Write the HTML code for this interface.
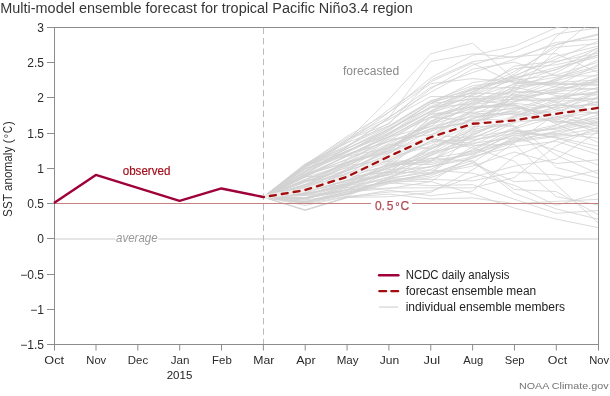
<!DOCTYPE html><html><head><meta charset="utf-8"><style>html,body{margin:0;padding:0;background:#fff;}svg{display:block;will-change:transform;}text{font-family:"Liberation Sans",sans-serif;}</style></head><body>
<svg width="610" height="396" viewBox="0 0 610 396">
<rect width="610" height="396" fill="#fff"/>
<defs><clipPath id="pc"><rect x="54" y="27" width="545" height="318"/></clipPath></defs>
<text x="0.3" y="12.6" font-size="14" fill="#363636" textLength="412.5" lengthAdjust="spacingAndGlyphs">Multi-model ensemble forecast for tropical Pacific Niño3.4 region</text>
<g stroke="#8c8c8c" stroke-width="1" fill="none">
<rect x="54.5" y="27.5" width="544" height="317"/>
<line x1="47" y1="27.5" x2="54" y2="27.5"/>
<line x1="47" y1="62.5" x2="54" y2="62.5"/>
<line x1="47" y1="97.5" x2="54" y2="97.5"/>
<line x1="47" y1="133.5" x2="54" y2="133.5"/>
<line x1="47" y1="168.5" x2="54" y2="168.5"/>
<line x1="47" y1="203.5" x2="54" y2="203.5"/>
<line x1="47" y1="238.5" x2="54" y2="238.5"/>
<line x1="47" y1="274.5" x2="54" y2="274.5"/>
<line x1="47" y1="309.5" x2="54" y2="309.5"/>
<line x1="47" y1="344.5" x2="54" y2="344.5"/>
<line x1="54.50" y1="344" x2="54.50" y2="350.5"/>
<line x1="96.00" y1="344" x2="96.00" y2="350.5"/>
<line x1="137.84" y1="344" x2="137.84" y2="350.5"/>
<line x1="179.69" y1="344" x2="179.69" y2="350.5"/>
<line x1="221.53" y1="344" x2="221.53" y2="350.5"/>
<line x1="263.38" y1="344" x2="263.38" y2="350.5"/>
<line x1="305.23" y1="344" x2="305.23" y2="350.5"/>
<line x1="347.07" y1="344" x2="347.07" y2="350.5"/>
<line x1="388.92" y1="344" x2="388.92" y2="350.5"/>
<line x1="430.77" y1="344" x2="430.77" y2="350.5"/>
<line x1="472.61" y1="344" x2="472.61" y2="350.5"/>
<line x1="514.46" y1="344" x2="514.46" y2="350.5"/>
<line x1="556.30" y1="344" x2="556.30" y2="350.5"/>
<line x1="598.50" y1="344" x2="598.50" y2="350.5"/>
</g>
<line x1="55" y1="239" x2="115.5" y2="239" stroke="#e6e6e6" stroke-width="2"/>
<line x1="158.5" y1="239" x2="598" y2="239" stroke="#e6e6e6" stroke-width="2"/>
<text x="116" y="241.8" font-size="12" font-style="italic" fill="#999" textLength="41.6" lengthAdjust="spacingAndGlyphs">average</text>
<g clip-path="url(#pc)" fill="none" stroke="#d2d2d2" stroke-width="0.8" stroke-linejoin="round">
<polyline points="263.2,197.1 305.1,201.8 346.9,191.9 388.8,188.7 430.6,181.6 472.5,155.3 514.3,138.5 556.2,125.7 598.0,96.4"/>
<polyline points="263.2,197.1 305.1,200.2 346.9,193.5 388.8,181.0 430.6,181.5 472.5,193.7 514.3,208.0 556.2,219.1 598.0,227.6"/>
<polyline points="263.2,197.1 305.1,177.3 346.9,165.1 388.8,161.3 430.6,160.2 472.5,142.0 514.3,122.9 556.2,106.3 598.0,91.2"/>
<polyline points="263.2,197.1 305.1,210.0 346.9,197.5 388.8,196.7 430.6,192.5 472.5,169.8 514.3,143.0 556.2,114.0 598.0,90.3"/>
<polyline points="263.2,197.1 305.1,188.0 346.9,184.8 388.8,174.6 430.6,169.6 472.5,149.3 514.3,128.8 556.2,117.0 598.0,108.4"/>
<polyline points="263.2,197.1 305.1,210.5 346.9,197.8 388.8,190.2 430.6,195.7 472.5,191.0 514.3,156.5 556.2,139.8 598.0,130.3"/>
<polyline points="263.2,197.1 305.1,168.8 346.9,151.0 388.8,132.6 430.6,111.7 472.5,94.7 514.3,74.1 556.2,44.8 598.0,35.0"/>
<polyline points="263.2,197.1 305.1,185.2 346.9,166.8 388.8,139.4 430.6,134.9 472.5,138.6 514.3,120.6 556.2,109.1 598.0,97.2"/>
<polyline points="263.2,197.1 305.1,168.7 346.9,154.8 388.8,136.5 430.6,117.0 472.5,106.4 514.3,104.1 556.2,120.7 598.0,129.2"/>
<polyline points="263.2,197.1 305.1,195.4 346.9,182.3 388.8,166.6 430.6,134.4 472.5,126.5 514.3,125.8 556.2,155.1 598.0,173.7"/>
<polyline points="263.2,197.1 305.1,180.4 346.9,163.7 388.8,145.1 430.6,128.7 472.5,115.5 514.3,107.7 556.2,112.9 598.0,123.1"/>
<polyline points="263.2,197.1 305.1,192.9 346.9,170.6 388.8,149.3 430.6,122.5 472.5,100.2 514.3,76.4 556.2,56.2 598.0,46.2"/>
<polyline points="263.2,197.1 305.1,198.7 346.9,187.8 388.8,176.9 430.6,161.9 472.5,133.7 514.3,115.5 556.2,103.9 598.0,79.2"/>
<polyline points="263.2,197.1 305.1,187.7 346.9,174.4 388.8,162.5 430.6,141.5 472.5,119.2 514.3,101.5 556.2,88.6 598.0,74.3"/>
<polyline points="263.2,197.1 305.1,203.2 346.9,194.5 388.8,183.7 430.6,177.7 472.5,162.5 514.3,136.5 556.2,127.6 598.0,115.0"/>
<polyline points="263.2,197.1 305.1,193.2 346.9,180.4 388.8,175.3 430.6,148.8 472.5,127.5 514.3,92.2 556.2,49.9 598.0,16.6"/>
<polyline points="263.2,197.1 305.1,175.5 346.9,156.4 388.8,133.8 430.6,110.9 472.5,89.3 514.3,68.6 556.2,64.8 598.0,55.2"/>
<polyline points="263.2,197.1 305.1,187.2 346.9,170.4 388.8,150.6 430.6,124.1 472.5,113.3 514.3,114.4 556.2,112.2 598.0,107.4"/>
<polyline points="263.2,197.1 305.1,193.5 346.9,185.8 388.8,167.7 430.6,149.6 472.5,129.4 514.3,95.7 556.2,78.6 598.0,67.8"/>
<polyline points="263.2,197.1 305.1,166.8 346.9,139.7 388.8,119.6 430.6,96.5 472.5,96.5 514.3,97.3 556.2,81.6 598.0,50.0"/>
<polyline points="263.2,197.1 305.1,189.2 346.9,172.8 388.8,160.8 430.6,141.2 472.5,139.8 514.3,133.5 556.2,134.4 598.0,122.1"/>
<polyline points="263.2,197.1 305.1,200.1 346.9,184.9 388.8,172.4 430.6,158.5 472.5,151.3 514.3,140.6 556.2,135.4 598.0,128.2"/>
<polyline points="263.2,197.1 305.1,184.5 346.9,178.1 388.8,153.2 430.6,130.6 472.5,102.0 514.3,90.2 556.2,79.6 598.0,59.8"/>
<polyline points="263.2,197.1 305.1,198.1 346.9,183.4 388.8,174.7 430.6,155.6 472.5,140.9 514.3,129.8 556.2,138.0 598.0,150.2"/>
<polyline points="263.2,197.1 305.1,193.9 346.9,185.5 388.8,179.5 430.6,154.2 472.5,137.7 514.3,121.4 556.2,119.7 598.0,106.2"/>
<polyline points="263.2,197.1 305.1,194.4 346.9,186.9 388.8,162.9 430.6,163.0 472.5,152.4 514.3,134.4 556.2,124.8 598.0,111.3"/>
<polyline points="263.2,197.1 305.1,166.3 346.9,147.1 388.8,117.9 430.6,87.4 472.5,72.6 514.3,59.3 556.2,42.4 598.0,39.2"/>
<polyline points="263.2,197.1 305.1,187.6 346.9,160.1 388.8,138.7 430.6,117.1 472.5,120.8 514.3,126.5 556.2,167.5 598.0,177.9"/>
<polyline points="263.2,197.1 305.1,185.1 346.9,164.2 388.8,146.3 430.6,128.8 472.5,121.8 514.3,112.5 556.2,104.6 598.0,109.6"/>
<polyline points="263.2,197.1 305.1,174.4 346.9,159.9 388.8,141.3 430.6,114.1 472.5,112.4 514.3,108.5 556.2,96.5 598.0,91.9"/>
<polyline points="263.2,197.1 305.1,165.1 346.9,146.7 388.8,123.0 430.6,88.8 472.5,65.1 514.3,51.8 556.2,34.0 598.0,27.9"/>
<polyline points="263.2,197.1 305.1,192.8 346.9,173.9 388.8,160.2 430.6,141.1 472.5,145.3 514.3,144.2 556.2,184.5 598.0,222.8"/>
<polyline points="263.2,197.1 305.1,198.2 346.9,176.7 388.8,165.1 430.6,161.6 472.5,128.4 514.3,102.2 556.2,90.3 598.0,82.7"/>
<polyline points="263.2,197.1 305.1,165.0 346.9,136.4 388.8,112.4 430.6,83.7 472.5,78.6 514.3,82.1 556.2,84.1 598.0,84.6"/>
<polyline points="263.2,197.1 305.1,202.9 346.9,194.5 388.8,179.2 430.6,170.1 472.5,173.2 514.3,185.2 556.2,205.4 598.0,193.5"/>
<polyline points="263.2,197.1 305.1,192.3 346.9,180.1 388.8,168.0 430.6,155.5 472.5,135.6 514.3,116.3 556.2,99.4 598.0,78.4"/>
<polyline points="263.2,197.1 305.1,174.4 346.9,162.6 388.8,143.6 430.6,124.1 472.5,105.6 514.3,83.4 556.2,84.9 598.0,81.9"/>
<polyline points="263.2,197.1 305.1,165.1 346.9,142.9 388.8,125.9 430.6,100.6 472.5,90.1 514.3,78.1 556.2,87.0 598.0,89.5"/>
<polyline points="263.2,197.1 305.1,198.1 346.9,189.8 388.8,181.6 430.6,176.0 472.5,157.5 514.3,142.2 556.2,136.3 598.0,133.5"/>
<polyline points="263.2,197.1 305.1,209.9 346.9,197.1 388.8,194.1 430.6,199.0 472.5,197.9 514.3,203.7 556.2,201.4 598.0,199.4"/>
<polyline points="263.2,197.1 305.1,176.6 346.9,175.8 388.8,155.0 430.6,116.8 472.5,103.0 514.3,91.4 556.2,93.6 598.0,95.0"/>
<polyline points="263.2,197.1 305.1,195.5 346.9,190.4 388.8,173.1 430.6,166.7 472.5,156.6 514.3,146.5 556.2,141.3 598.0,154.4"/>
<polyline points="263.2,197.1 305.1,192.1 346.9,177.1 388.8,171.8 430.6,146.0 472.5,134.8 514.3,117.2 556.2,101.3 598.0,99.2"/>
<polyline points="263.2,197.1 305.1,180.8 346.9,170.5 388.8,158.4 430.6,136.3 472.5,111.4 514.3,88.9 556.2,72.5 598.0,51.5"/>
<polyline points="263.2,197.1 305.1,184.3 346.9,161.6 388.8,151.3 430.6,118.3 472.5,104.5 514.3,98.9 556.2,91.5 598.0,88.2"/>
<polyline points="263.2,197.1 305.1,181.4 346.9,176.9 388.8,155.8 430.6,143.5 472.5,125.0 514.3,96.6 556.2,92.5 598.0,77.6"/>
<polyline points="263.2,197.1 305.1,195.3 346.9,183.7 388.8,166.1 430.6,160.9 472.5,154.4 514.3,132.3 556.2,128.4 598.0,117.3"/>
<polyline points="263.2,197.1 305.1,170.6 346.9,150.6 388.8,135.1 430.6,111.7 472.5,91.5 514.3,75.7 556.2,59.0 598.0,41.2"/>
<polyline points="263.2,197.1 305.1,169.1 346.9,152.4 388.8,133.4 430.6,106.3 472.5,92.4 514.3,71.5 556.2,47.3 598.0,43.6"/>
<polyline points="263.2,197.1 305.1,187.5 346.9,177.2 388.8,172.0 430.6,173.2 472.5,163.5 514.3,181.6 556.2,179.9 598.0,170.1"/>
<polyline points="263.2,197.1 305.1,193.7 346.9,168.9 388.8,144.5 430.6,148.7 472.5,130.2 514.3,118.2 556.2,107.0 598.0,93.6"/>
<polyline points="263.2,197.1 305.1,175.3 346.9,162.3 388.8,152.6 430.6,137.7 472.5,118.4 514.3,110.7 556.2,97.6 598.0,92.7"/>
<polyline points="263.2,197.1 305.1,182.0 346.9,167.7 388.8,157.2 430.6,146.3 472.5,117.3 514.3,111.5 556.2,122.5 598.0,118.1"/>
<polyline points="263.2,197.1 305.1,197.8 346.9,191.5 388.8,180.7 430.6,174.1 472.5,166.1 514.3,152.0 556.2,163.5 598.0,159.8"/>
<polyline points="263.2,197.1 305.1,194.4 346.9,184.4 388.8,171.2 430.6,147.8 472.5,136.8 514.3,130.6 556.2,137.3 598.0,146.1"/>
<polyline points="263.2,197.1 305.1,168.9 346.9,154.1 388.8,141.5 430.6,126.5 472.5,97.6 514.3,84.3 556.2,77.2 598.0,66.0"/>
<polyline points="263.2,197.1 305.1,188.4 346.9,169.2 388.8,152.5 430.6,112.4 472.5,101.0 514.3,88.1 556.2,80.7 598.0,70.1"/>
<polyline points="263.2,197.1 305.1,192.3 346.9,174.2 388.8,156.8 430.6,135.2 472.5,110.5 514.3,85.9 556.2,82.4 598.0,80.0"/>
<polyline points="263.2,197.1 305.1,185.3 346.9,171.3 388.8,154.5 430.6,123.0 472.5,107.8 514.3,103.3 556.2,107.9 598.0,104.0"/>
<polyline points="263.2,197.1 305.1,189.8 346.9,177.9 388.8,158.6 430.6,138.4 472.5,147.8 514.3,161.2 556.2,196.6 598.0,204.9"/>
<polyline points="263.2,197.1 305.1,190.0 346.9,181.8 388.8,164.1 430.6,164.6 472.5,153.4 514.3,141.4 556.2,131.1 598.0,121.0"/>
<polyline points="263.2,197.1 305.1,205.5 346.9,196.6 388.8,192.0 430.6,190.9 472.5,177.3 514.3,166.1 556.2,159.2 598.0,131.3"/>
<polyline points="263.2,197.1 305.1,166.1 346.9,148.8 388.8,129.5 430.6,107.5 472.5,103.7 514.3,94.9 556.2,109.9 598.0,113.3"/>
<polyline points="263.2,197.1 305.1,186.5 346.9,165.2 388.8,148.5 430.6,121.0 472.5,108.6 514.3,104.9 556.2,118.6 598.0,132.2"/>
<polyline points="263.2,197.1 305.1,198.7 346.9,187.8 388.8,182.7 430.6,173.9 472.5,132.7 514.3,86.5 556.2,36.5 598.0,7.0"/>
<polyline points="263.2,197.1 305.1,172.3 346.9,151.5 388.8,130.8 430.6,103.4 472.5,99.3 514.3,105.6 556.2,123.9 598.0,142.5"/>
<polyline points="263.2,197.1 305.1,182.3 346.9,162.9 388.8,150.8 430.6,136.6 472.5,114.3 514.3,98.1 556.2,86.3 598.0,64.3"/>
<polyline points="263.2,197.1 305.1,188.7 346.9,175.4 388.8,165.8 430.6,152.0 472.5,144.4 514.3,127.7 556.2,111.0 598.0,101.9"/>
<polyline points="263.2,197.1 305.1,172.3 346.9,148.6 388.8,129.2 430.6,103.5 472.5,82.5 514.3,77.3 556.2,69.9 598.0,48.1"/>
<polyline points="263.2,197.1 305.1,164.9 346.9,145.6 388.8,126.3 430.6,101.3 472.5,85.8 514.3,80.2 556.2,75.0 598.0,62.2"/>
<polyline points="263.2,197.1 305.1,179.4 346.9,165.8 388.8,147.0 430.6,131.9 472.5,109.6 514.3,100.8 556.2,100.3 598.0,87.3"/>
<polyline points="263.2,197.1 305.1,167.5 346.9,148.7 388.8,127.2 430.6,101.8 472.5,93.1 514.3,94.1 556.2,102.4 598.0,114.1"/>
<polyline points="263.2,197.1 305.1,166.1 346.9,139.5 388.8,124.1 430.6,80.2 472.5,61.6 514.3,56.7 556.2,53.6 598.0,72.6"/>
<polyline points="263.2,197.1 305.1,198.9 346.9,189.6 388.8,177.3 430.6,166.6 472.5,158.6 514.3,139.5 556.2,132.1 598.0,124.9"/>
<polyline points="263.2,197.1 305.1,198.4 346.9,186.3 388.8,172.7 430.6,152.6 472.5,123.8 514.3,92.9 556.2,89.5 598.0,81.1"/>
<polyline points="263.2,197.1 305.1,171.5 346.9,154.9 388.8,136.8 430.6,126.7 472.5,116.4 514.3,113.4 556.2,121.6 598.0,123.9"/>
<polyline points="263.2,197.1 305.1,202.8 346.9,193.5 388.8,178.8 430.6,179.4 472.5,180.9 514.3,172.0 556.2,174.9 598.0,183.7"/>
<polyline points="263.2,197.1 305.1,191.6 346.9,180.6 388.8,158.1 430.6,138.9 472.5,143.4 514.3,137.7 556.2,150.3 598.0,165.0"/>
<polyline points="263.2,197.1 305.1,166.2 346.9,151.8 388.8,130.6 430.6,103.7 472.5,87.8 514.3,80.9 556.2,83.3 598.0,85.5"/>
<polyline points="263.2,197.1 305.1,173.6 346.9,152.0 388.8,128.7 430.6,107.2 472.5,98.4 514.3,99.6 556.2,98.6 598.0,98.3"/>
<polyline points="263.2,197.1 305.1,177.0 346.9,155.4 388.8,137.0 430.6,114.4 472.5,107.0 514.3,106.8 556.2,116.2 598.0,126.0"/>
<polyline points="263.2,197.1 305.1,203.9 346.9,196.2 388.8,178.0 430.6,172.5 472.5,146.7 514.3,135.3 556.2,133.6 598.0,138.2"/>
<polyline points="263.2,197.1 305.1,163.8 346.9,142.7 388.8,112.4 430.6,77.9 472.5,55.3 514.3,46.2 556.2,27.7 598.0,21.2"/>
<polyline points="263.2,197.1 305.1,179.6 346.9,162.7 388.8,137.0 430.6,113.9 472.5,94.1 514.3,66.0 556.2,61.4 598.0,53.2"/>
<polyline points="263.2,197.1 305.1,174.2 346.9,156.4 388.8,148.2 430.6,121.5 472.5,95.6 514.3,79.0 556.2,67.4 598.0,57.1"/>
<polyline points="263.2,197.1 305.1,180.6 346.9,175.0 388.8,147.4 430.6,128.9 472.5,122.5 514.3,109.2 556.2,105.3 598.0,105.2"/>
<polyline points="263.2,197.1 305.1,201.7 346.9,192.2 388.8,181.8 430.6,173.3 472.5,160.5 514.3,189.5 556.2,191.6 598.0,214.5"/>
<polyline points="263.2,197.1 305.1,201.5 346.9,193.9 388.8,182.8 430.6,185.7 472.5,184.6 514.3,199.2 556.2,213.3 598.0,210.5"/>
<polyline points="263.2,197.1 305.1,202.3 346.9,189.8 388.8,188.0 430.6,187.8 472.5,187.9 514.3,177.6 556.2,145.8 598.0,126.7"/>
<polyline points="263.2,197.1 305.1,164.9 346.9,137.9 388.8,117.2 430.6,92.4 472.5,69.2 514.3,62.1 556.2,75.8 598.0,76.0"/>
<polyline points="263.2,197.1 305.1,198.3 346.9,189.8 388.8,169.7 430.6,167.1 472.5,150.3 514.3,131.6 556.2,129.4 598.0,119.4"/>
<polyline points="263.2,197.1 305.1,190.6 346.9,183.9 388.8,164.1 430.6,158.2 472.5,161.3 514.3,193.2 556.2,208.9 598.0,219.2"/>
<polyline points="263.2,197.1 305.1,191.8 346.9,180.1 388.8,168.6 430.6,153.5 472.5,131.8 514.3,122.2 556.2,117.8 598.0,112.4"/>
<polyline points="263.2,197.1 305.1,176.3 346.9,159.2 388.8,134.3 430.6,108.2 472.5,88.6 514.3,87.3 556.2,95.5 598.0,102.9"/>
<polyline points="263.2,197.1 305.1,176.9 346.9,155.6 388.8,141.3 430.6,130.8 472.5,120.1 514.3,119.1 556.2,115.3 598.0,101.2"/>
<polyline points="263.2,197.1 305.1,171.4 346.9,141.1 388.8,99.6 430.6,53.8 472.5,43.2 514.3,79.1 556.2,62.2 598.0,48.1"/>
<polyline points="263.2,197.1 305.1,174.9 346.9,146.8 388.8,117.9 430.6,61.5 472.5,53.8 514.3,57.3 556.2,44.6 598.0,34.0"/>
<polyline points="263.2,197.1 305.1,167.9 346.9,141.1 388.8,109.4 430.6,81.9 472.5,62.9 514.3,83.4 556.2,69.3 598.0,55.2"/>
</g>
<line x1="263.5" y1="27.7" x2="263.5" y2="344" stroke="#bbb" stroke-width="1" stroke-dasharray="6.3,4.07"/>
<rect x="371" y="199" width="41" height="13" fill="#fff"/>
<line x1="54" y1="203.5" x2="371" y2="203.5" stroke="#c98080" stroke-width="1"/>
<line x1="412" y1="203.5" x2="598" y2="203.5" stroke="#c98080" stroke-width="1"/>
<text y="209.5" font-size="12" fill="#b04a55" stroke="#b04a55" stroke-width="0.25"><tspan x="375">0</tspan><tspan x="381.6">.</tspan><tspan x="386.8">5</tspan><tspan x="395.2" font-size="11">°</tspan><tspan x="400.4">C</tspan></text>
<polyline points="54.00,203.11 95.85,174.93 137.69,187.97 179.54,200.86 221.38,188.46 263.23,196.98" fill="none" stroke="#a0003a" stroke-width="2.4" stroke-linejoin="round"/>
<g><polyline points="263.23,197.12 305.08,190.08 346.92,176.84 388.77,156.48 430.62,137.25 472.46,123.79 514.31,120.34 556.15,113.79 598.00,107.94" fill="none" stroke="#fff" stroke-width="4.4" opacity="0.6"/>
<polyline points="263.23,197.12 305.08,190.08 346.92,176.84 388.77,156.48 430.62,137.25 472.46,123.79 514.31,120.34 556.15,113.79 598.00,107.94" fill="none" stroke="#a50d0d" stroke-width="2.3" stroke-linecap="round" stroke-dasharray="5.9,6.12" stroke-dashoffset="5.23"/></g>
<text x="44" y="31.9" font-size="12" fill="#2b2b2b" text-anchor="end">3</text>
<text x="44" y="67.1" font-size="12" fill="#2b2b2b" text-anchor="end">2.5</text>
<text x="44" y="102.3" font-size="12" fill="#2b2b2b" text-anchor="end">2</text>
<text x="44" y="137.6" font-size="12" fill="#2b2b2b" text-anchor="end">1.5</text>
<text x="44" y="172.8" font-size="12" fill="#2b2b2b" text-anchor="end">1</text>
<text x="44" y="208.0" font-size="12" fill="#2b2b2b" text-anchor="end">0.5</text>
<text x="44" y="243.2" font-size="12" fill="#2b2b2b" text-anchor="end">0</text>
<text x="44" y="278.5" font-size="12" fill="#2b2b2b" text-anchor="end">−0.5</text>
<text x="44" y="313.7" font-size="12" fill="#2b2b2b" text-anchor="end">−1</text>
<text x="44" y="348.9" font-size="12" fill="#2b2b2b" text-anchor="end">−1.5</text>
<g transform="translate(12.2,216.6) rotate(-90)" fill="#2b2b2b" font-size="12"><text x="-0.3" textLength="70.2" lengthAdjust="spacingAndGlyphs">SST anomaly</text><text x="73.4">(</text><text x="78.3" font-size="11">°</text><text x="83.7" textLength="7" lengthAdjust="spacingAndGlyphs">C</text><text x="91.3">)</text></g>
<text x="54.15" y="363.9" font-size="11.5" fill="#2b2b2b" text-anchor="middle" textLength="19.7" lengthAdjust="spacingAndGlyphs">Oct</text>
<text x="96.25" y="363.9" font-size="11.5" fill="#2b2b2b" text-anchor="middle" textLength="19.9" lengthAdjust="spacingAndGlyphs">Nov</text>
<text x="138.00" y="363.9" font-size="11.5" fill="#2b2b2b" text-anchor="middle" textLength="20.3" lengthAdjust="spacingAndGlyphs">Dec</text>
<text x="180.00" y="363.9" font-size="11.5" fill="#2b2b2b" text-anchor="middle" textLength="18.7" lengthAdjust="spacingAndGlyphs">Jan</text>
<text x="221.90" y="363.9" font-size="11.5" fill="#2b2b2b" text-anchor="middle" textLength="19.7" lengthAdjust="spacingAndGlyphs">Feb</text>
<text x="263.75" y="363.9" font-size="11.5" fill="#2b2b2b" text-anchor="middle" textLength="21.1" lengthAdjust="spacingAndGlyphs">Mar</text>
<text x="305.90" y="363.9" font-size="11.5" fill="#2b2b2b" text-anchor="middle" textLength="19.4" lengthAdjust="spacingAndGlyphs">Apr</text>
<text x="347.65" y="363.9" font-size="11.5" fill="#2b2b2b" text-anchor="middle" textLength="21.9" lengthAdjust="spacingAndGlyphs">May</text>
<text x="389.45" y="363.9" font-size="11.5" fill="#2b2b2b" text-anchor="middle" textLength="19.5" lengthAdjust="spacingAndGlyphs">Jun</text>
<text x="431.90" y="363.9" font-size="11.5" fill="#2b2b2b" text-anchor="middle" textLength="16.6" lengthAdjust="spacingAndGlyphs">Jul</text>
<text x="473.30" y="363.9" font-size="11.5" fill="#2b2b2b" text-anchor="middle" textLength="20.0" lengthAdjust="spacingAndGlyphs">Aug</text>
<text x="514.65" y="363.9" font-size="11.5" fill="#2b2b2b" text-anchor="middle" textLength="19.9" lengthAdjust="spacingAndGlyphs">Sep</text>
<text x="557.45" y="363.9" font-size="11.5" fill="#2b2b2b" text-anchor="middle" textLength="19.3" lengthAdjust="spacingAndGlyphs">Oct</text>
<text x="599.15" y="363.9" font-size="11.5" fill="#2b2b2b" text-anchor="middle" textLength="19.9" lengthAdjust="spacingAndGlyphs">Nov</text>
<text x="179.5" y="378.5" font-size="11.5" fill="#222" text-anchor="middle">2015</text>
<text x="608.5" y="388.9" font-size="9.8" fill="#737373" text-anchor="end" textLength="89.5" lengthAdjust="spacingAndGlyphs">NOAA Climate.gov</text>
<text x="122.7" y="174.8" font-size="12" fill="#a3101e" stroke="#a3101e" stroke-width="0.2" textLength="47.7" lengthAdjust="spacingAndGlyphs">observed</text>
<text x="343" y="75" font-size="12" fill="#8a8a8a" textLength="56.2" lengthAdjust="spacingAndGlyphs">forecasted</text>
<line x1="379.1" y1="275.3" x2="398.4" y2="275.3" stroke="#a0003a" stroke-width="2.4" stroke-linecap="round"/>
<line x1="379.35" y1="291.2" x2="398.15" y2="291.2" stroke="#a50d0d" stroke-width="2.3" stroke-linecap="round" stroke-dasharray="6.8,5.2"/>
<line x1="379" y1="307.1" x2="398" y2="307.1" stroke="#dcdcdc" stroke-width="1.5"/>
<text x="405.7" y="279" font-size="12" fill="#222" textLength="103.8" lengthAdjust="spacingAndGlyphs">NCDC daily analysis</text>
<text x="405.7" y="294.9" font-size="12" fill="#222" textLength="130.5" lengthAdjust="spacingAndGlyphs">forecast ensemble mean</text>
<text x="405.7" y="310.6" font-size="12" fill="#222" textLength="159.3" lengthAdjust="spacingAndGlyphs">individual ensemble members</text>
</svg></body></html>
